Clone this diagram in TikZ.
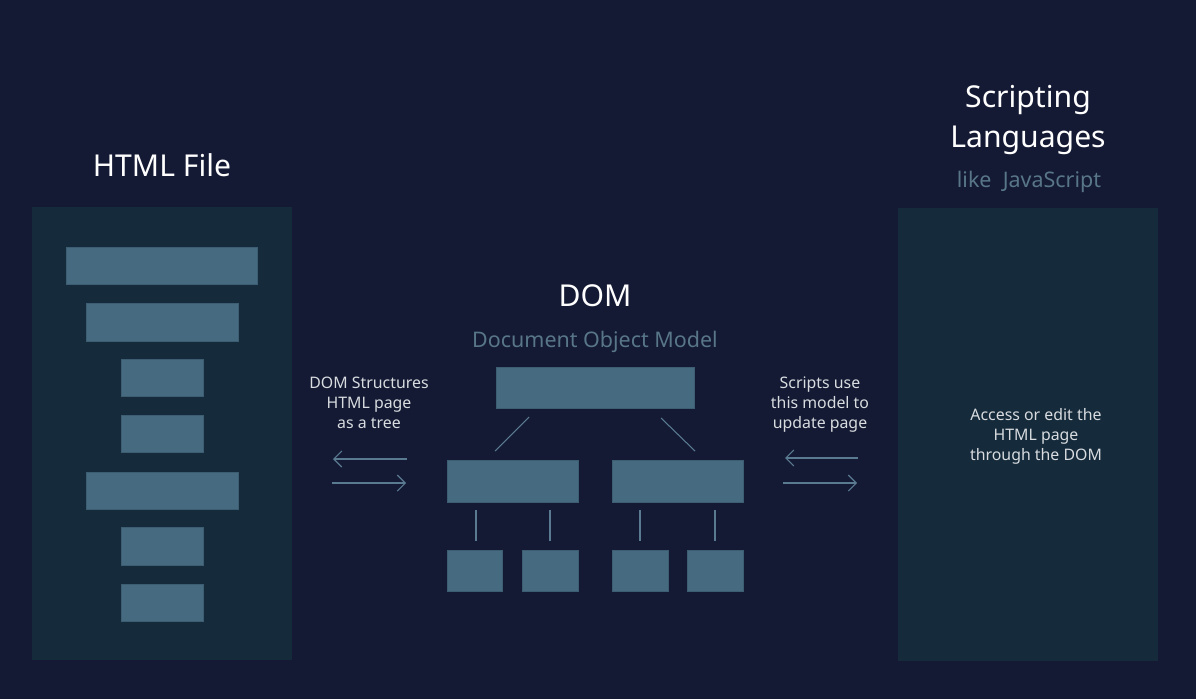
\documentclass[tikz,border=0pt]{standalone}
\usepackage{fontspec}
\setmainfont{Noto Sans}
\usetikzlibrary{arrows.meta}
\definecolor{bg}{HTML}{141A33}
\definecolor{panel}{HTML}{152A3A}
\definecolor{boxc}{HTML}{466A80}
\definecolor{boxedge}{HTML}{3D5D73}
\definecolor{linec}{HTML}{5A7A92}
\definecolor{subc}{HTML}{587688}
\definecolor{smallc}{HTML}{D8DCE0}
\tikzset{
  px/.style={x=0.75pt,y=-0.75pt},
  panelbox/.style={fill=panel,draw=none},
  bar/.style={fill=boxc,draw=boxedge,line width=0.6pt},
  treeline/.style={draw=linec,line width=0.8pt},
  flowarrow/.style={draw=linec,line width=0.8pt,-{Straight Barb[length=6pt,width=12pt,line width=0.8pt]}},
  title/.style={text=white,font=\fontsize{22.6}{27}\selectfont,anchor=base,inner sep=0pt},
  subtitle/.style={text=subc,font=\fontsize{16.1}{19}\selectfont,anchor=base,inner sep=0pt},
  small/.style={text=smallc,font=\fontsize{11.9}{15}\selectfont,anchor=base,align=center,inner sep=0pt},
}
\begin{document}
\begin{tikzpicture}[px]
\fill[bg] (0,0) rectangle (1196,699);
\useasboundingbox (0,0) rectangle (1196,699);
% panels
\path[panelbox] (32,207) rectangle (292,660);
\path[panelbox] (898,208) rectangle (1158,661);
% HTML bars
\path[bar] (66,247) rectangle (257,284);
\path[bar] (86,303) rectangle (238,341);
\path[bar] (121,359) rectangle (203,396);
\path[bar] (121,415) rectangle (203,452);
\path[bar] (86,472) rectangle (238,509);
\path[bar] (121,527) rectangle (203,565);
\path[bar] (121,584) rectangle (203,621);
% titles
\node[title] (htmlt) at (162,176) {HTML File};
\node[title] (script1) at (1028,108) {Scripting};
\node[title] (script2) at (1028,147) {Languages};
\node[subtitle] (likejs) at (1029,187) {like\ \ JavaScript};
\node[title] (domt) at (595,306) {DOM};
\node[subtitle] (doms) at (595,347) {Document Object Model};
% small texts (base = last line)
\node[small] (ltxt) at (369,428) {DOM Structures\\HTML page\\as a tree};
\node[small] (rtxt) at (820,428) {Scripts use\\this model to\\update page};
\node[small] (ptxt) at (1036,460) {Access or edit the\\HTML page\\through the DOM};
% DOM tree
\path[bar] (496,367) rectangle (694,408);
\path[bar] (447,460) rectangle (578,502);
\path[bar] (612,460) rectangle (743,502);
\path[bar] (447,550) rectangle (502,591);
\path[bar] (522,550) rectangle (578,591);
\path[bar] (612,550) rectangle (668,591);
\path[bar] (687,550) rectangle (743,591);
\coordinate (d1a) at (529,417); \coordinate (d1b) at (495,451);
\coordinate (d2a) at (661,418); \coordinate (d2b) at (695,451);
\draw[treeline] (d1a) -- (d1b);
\draw[treeline] (d2a) -- (d2b);
\foreach \xx/\nm in {476/v1,550/v2,640/v3,715/v4}{
  \coordinate (\nm a) at (\xx,510); \coordinate (\nm b) at (\xx,541);
  \draw[treeline] (\nm a) -- (\nm b);
}
% arrows
\coordinate (la1) at (407,459); \coordinate (la2) at (333,459);
\coordinate (lb1) at (332,483); \coordinate (lb2) at (406,483);
\coordinate (ra1) at (858,458); \coordinate (ra2) at (785,458);
\coordinate (rb1) at (783,483); \coordinate (rb2) at (857,483);
\draw[flowarrow] (la1) -- (la2);
\draw[flowarrow] (lb1) -- (lb2);
\draw[flowarrow] (ra1) -- (ra2);
\draw[flowarrow] (rb1) -- (rb2);
\end{tikzpicture}
\end{document}
